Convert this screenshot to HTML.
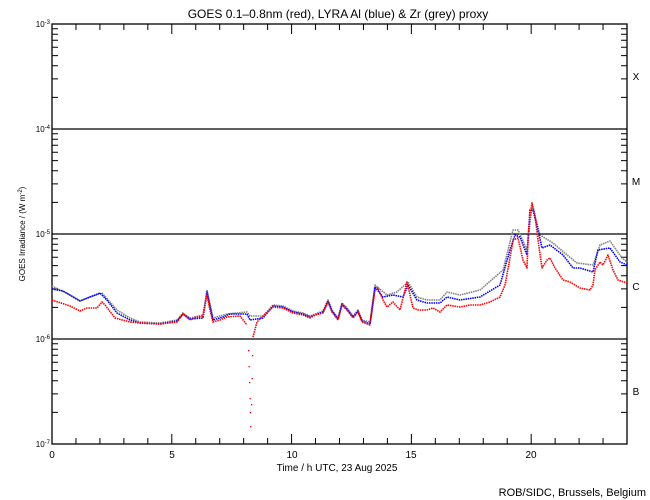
<!DOCTYPE html>
<html><head><meta charset="utf-8"><style>
body{margin:0;background:#fff}
svg{display:block;font-family:"Liberation Sans",sans-serif}
</style></head><body>
<svg width="650" height="500" viewBox="0 0 650 500" xmlns="http://www.w3.org/2000/svg">
<rect width="650" height="500" fill="#fff"/>
<text x="338" y="18" font-size="12" text-anchor="middle">GOES 0.1–0.8nm (red), LYRA Al (blue) &amp; Zr (grey) proxy</text>
<rect x="52" y="24" width="575" height="420" fill="none" stroke="#000" stroke-width="1.3"/>
<g stroke="#000" stroke-width="1.3">
<line x1="52" y1="129" x2="627" y2="129"/>
<line x1="52" y1="234" x2="627" y2="234"/>
<line x1="52" y1="339" x2="627" y2="339"/>
</g>
<path stroke="#000" stroke-width="1" fill="none" d="
M75.96 444v-6M99.92 444v-6M123.88 444v-6M147.83 444v-6M171.79 444v-10M195.75 444v-6M219.71 444v-6M243.67 444v-6M267.63 444v-6M291.58 444v-10M315.54 444v-6M339.5 444v-6M363.46 444v-6M387.42 444v-6M411.38 444v-10M435.33 444v-6M459.29 444v-6M483.25 444v-6M507.21 444v-6M531.17 444v-10M555.13 444v-6M579.08 444v-6M603.04 444v-6
M75.96 24v6M99.92 24v6M123.88 24v6M147.83 24v6M171.79 24v10M195.75 24v6M219.71 24v6M243.67 24v6M267.63 24v6M291.58 24v10M315.54 24v6M339.5 24v6M363.46 24v6M387.42 24v6M411.38 24v10M435.33 24v6M459.29 24v6M483.25 24v6M507.21 24v6M531.17 24v10M555.13 24v6M579.08 24v6M603.04 24v6
M52 412.4h6M52 393.9h6M52 380.8h6M52 370.6h6M52 362.3h6M52 355.3h6M52 349.2h6M52 343.8h6
M52 307.4h6M52 288.9h6M52 275.8h6M52 265.6h6M52 257.3h6M52 250.3h6M52 244.2h6M52 238.8h6
M52 202.4h6M52 183.9h6M52 170.8h6M52 160.6h6M52 152.3h6M52 145.3h6M52 139.2h6M52 133.8h6
M52 97.4h6M52 78.9h6M52 65.8h6M52 55.6h6M52 47.3h6M52 40.3h6M52 34.2h6M52 28.8h6
M627 412.4h-6M627 393.9h-6M627 380.8h-6M627 370.6h-6M627 362.3h-6M627 355.3h-6M627 349.2h-6M627 343.8h-6
M627 307.4h-6M627 288.9h-6M627 275.8h-6M627 265.6h-6M627 257.3h-6M627 250.3h-6M627 244.2h-6M627 238.8h-6
M627 202.4h-6M627 183.9h-6M627 170.8h-6M627 160.6h-6M627 152.3h-6M627 145.3h-6M627 139.2h-6M627 133.8h-6
M627 97.4h-6M627 78.9h-6M627 65.8h-6M627 55.6h-6M627 47.3h-6M627 40.3h-6M627 34.2h-6M627 28.8h-6"/>
<g font-size="8">
<text x="50" y="27" text-anchor="end">10<tspan dy="-3" font-size="6">-3</tspan></text>
<text x="50" y="132" text-anchor="end">10<tspan dy="-3" font-size="6">-4</tspan></text>
<text x="50" y="237" text-anchor="end">10<tspan dy="-3" font-size="6">-5</tspan></text>
<text x="50" y="342" text-anchor="end">10<tspan dy="-3" font-size="6">-6</tspan></text>
<text x="50" y="447" text-anchor="end">10<tspan dy="-3" font-size="6">-7</tspan></text>
</g>
<g font-size="10" text-anchor="middle">
<text x="636" y="80">X</text><text x="636" y="185">M</text><text x="636" y="290">C</text><text x="636" y="395">B</text>
<text x="52" y="458">0</text><text x="172" y="458">5</text><text x="292" y="458">10</text><text x="411" y="458">15</text><text x="531" y="458">20</text>
<text x="337" y="471">Time / h UTC, 23 Aug 2025</text>
<text x="646" y="496" text-anchor="end" font-size="11">ROB/SIDC, Brussels, Belgium</text>
</g>
<text transform="translate(25,234) rotate(-90)" font-size="8" text-anchor="middle">GOES Irradiance / (W m<tspan dy="-3" font-size="6">-2</tspan><tspan dy="3">)</tspan></text>
<g fill="none" stroke-width="1.6" stroke-linejoin="round" stroke-dasharray="1.5 0.8">
<polyline stroke="#808080" points="52,286 70,295 80,301 90,297 102,293 117,310 130,318 140,322 160,323 177,320 183,313 190,318 203,315 207,290 213,318 227,314 247,312 250,316 263,316 273,305 283,306 293,311 303,313 310,316 323,311 328,300 332,310 338,318 342,303 347,308 353,316 358,310 362,320 370,322 375,285 387,295 397,292 408,282 417,297 427,300 440,300 447,292 460,295 480,290 503,270 513,230 518,230 527,250 532,205 540,235 553,243 567,255 577,263 593,265 600,245 610,241 622,258 627,262"/>
<polyline stroke="#0000ff" points="52,289 63,291 80,301 90,297 100,293 107,300 117,313 130,320 140,323 160,324 177,321 183,314 190,319 203,318 207,292 213,320 223,317 230,314 247,314 250,320 263,318 273,306 283,307 293,312 303,314 310,317 323,312 328,301 332,311 338,319 342,304 347,309 353,317 358,311 362,321 370,324 375,287 383,297 393,295 403,297 408,285 417,300 427,303 440,303 447,297 460,300 480,297 500,285 510,250 515,235 520,237 527,255 530,210 533,210 538,230 542,248 550,245 563,255 573,268 580,268 593,272 598,250 610,248 620,262 627,265"/>
<polyline stroke="#ff0000" points="52,300 70,306 80,311 87,308 97,308 102,302 105,305 115,318 130,322 140,323 160,324 177,322 183,314 190,320 197,317 203,316 207,295 210,310 213,322 220,320 227,317 240,316 247,325"/>
<polyline stroke="#ff0000" points="253,337 257,322 263,316 273,307 283,308 293,313 303,315 310,318 315,315 323,313 328,302 332,312 338,320 342,305 347,310 353,318 358,312 362,322 370,325 375,290 378,288 383,300 387,307 393,302 400,310 407,282 413,308 418,310 427,310 433,308 440,312 447,305 460,307 470,305 480,305 490,302 500,297 505,285 510,258 513,240 518,238 523,260 527,268 528,240 530,215 532,203 535,215 538,240 542,268 547,260 550,258 555,268 563,280 570,282 580,288 590,290 593,285 595,270 600,262 603,265 608,255 613,270 618,280 627,283"/>
</g>
<g fill="#ff0000">
<rect x="248" y="350" width="1.3" height="1.3"/><rect x="248.5" y="366" width="1.3" height="1.3"/><rect x="249" y="382" width="1.3" height="1.3"/><rect x="249.5" y="398" width="1.3" height="1.3"/><rect x="249.8" y="412" width="1.3" height="1.3"/><rect x="250" y="426" width="1.3" height="1.3"/><rect x="251" y="404" width="1.3" height="1.3"/><rect x="251.5" y="378" width="1.3" height="1.3"/><rect x="252" y="355" width="1.3" height="1.3"/>
</g>
</svg>
</body></html>
